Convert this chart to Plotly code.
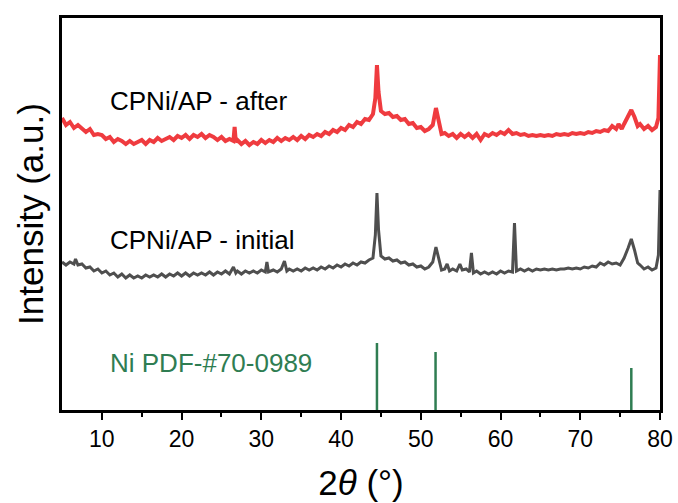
import plotly.graph_objects as go

# ---- data (2theta in degrees, intensity in arbitrary units) ----
after_x = [5.0,5.5,6.0,6.5,7.0,7.5,8.0,8.5,9.0,9.5,10.0,10.5,11.0,11.5,12.0,12.5,13.0,13.5,14.0,14.5,
           15.0,15.5,16.0,16.5,17.0,17.5,18.0,18.5,19.0,19.5,20.0,20.5,21.0,21.5,22.0,22.5,23.0,23.5,24.0,24.5,
           25.0,25.5,26.0,26.5,26.65,26.8,27.0,27.5,28.0,28.5,29.0,29.5,30.0,30.5,31.0,31.5,32.0,32.5,33.0,33.5,
           34.0,34.5,35.0,35.5,36.0,36.5,37.0,37.5,38.0,38.5,39.0,39.5,40.0,40.5,41.0,41.5,42.0,42.5,43.0,43.5,
           44.0,44.3,44.5,44.7,45.0,45.5,46.0,46.5,47.0,47.5,48.0,48.5,49.0,49.5,50.0,50.5,51.0,51.5,51.9,52.3,
           52.6,53.0,53.5,54.0,54.5,55.0,55.5,56.0,56.5,57.0,57.5,58.0,58.5,59.0,59.5,60.0,60.5,61.0,61.5,62.0,
           62.5,63.0,63.5,64.0,64.5,65.0,65.5,66.0,66.5,67.0,67.5,68.0,68.5,69.0,69.5,70.0,70.5,71.0,71.5,72.0,
           72.5,73.0,73.5,74.0,74.5,74.8,75.2,75.5,76.0,76.4,76.8,77.2,77.5,78.0,78.5,79.0,79.5,79.8,80.0]
after_y = [292,285,288,282,285,281,278,281,275,276,275,271,273,268,271,269,266,269,266,268,
           270,266,270,268,272,269,271,273,270,274,272,275,271,275,273,276,272,275,273,270,
           273,269,271,269,283,268,270,266,269,265,268,266,270,267,270,268,272,269,272,270,
           273,270,274,271,275,273,276,274,278,276,280,278,282,280,285,283,288,286,291,290,
           296,312,345,318,299,296,297,293,294,290,291,286,287,282,283,279,281,285,302,285,
           276,277,274,276,272,276,273,276,272,276,270,276,274,277,275,278,276,280,276,277,
           275,276,274,275,274,275,274,275,274,276,275,276,275,277,276,277,276,278,277,279,
           278,280,279,284,281,286,281,286,293,300,293,284,286,281,284,280,283,292,355]

initial_x = [5.0,5.5,6.0,6.5,6.7,7.0,7.5,8.0,8.5,9.0,9.5,10.0,10.5,11.0,11.5,12.0,12.5,13.0,13.5,14.0,
             14.5,15.0,15.5,16.0,16.5,17.0,17.5,18.0,18.5,19.0,19.5,20.0,20.5,21.0,21.5,22.0,22.5,23.0,23.5,24.0,
             24.5,25.0,25.5,26.0,26.5,26.8,27.0,27.5,28.0,28.5,29.0,29.5,30.0,30.5,30.7,30.9,31.5,32.0,32.5,32.9,
             33.2,33.5,34.0,34.5,35.0,35.5,36.0,36.5,37.0,37.5,38.0,38.5,39.0,39.5,40.0,40.5,41.0,41.5,42.0,42.5,
             43.0,43.5,44.0,44.3,44.5,44.7,45.0,45.5,46.0,46.5,47.0,47.5,48.0,48.5,49.0,49.5,50.0,50.5,51.0,51.5,
             51.9,52.3,52.6,53.0,53.3,53.6,54.0,54.5,54.9,55.2,55.7,56.1,56.35,56.6,57.0,57.5,58.0,58.5,59.0,59.5,
             60.0,60.5,61.0,61.5,61.75,62.0,62.5,63.0,63.5,64.0,64.5,65.0,65.5,66.0,66.5,67.0,67.5,68.0,68.5,69.0,
             69.5,70.0,70.5,71.0,71.5,72.0,72.5,73.0,73.5,74.0,74.5,75.0,75.5,76.0,76.4,76.8,77.2,77.5,78.0,78.5,
             79.0,79.5,79.8,80.0]
initial_y = [148,145,148,146,151,145,146,142,143,139,141,137,139,135,137,133,136,132,135,132,
             134,132,135,133,135,133,136,133,136,134,137,134,137,134,137,135,137,135,138,135,
             138,136,139,136,143,137,139,136,139,137,139,137,140,138,148,138,140,138,141,149,
             139,141,139,141,139,142,140,142,140,143,141,144,142,145,143,146,144,147,145,148,
             147,150,152,175,217,180,154,151,152,149,150,147,148,145,146,143,144,141,143,148,
             163,148,140,141,146,139,141,139,146,140,141,138,157,137,139,136,138,136,138,136,
             139,137,139,138,187,139,141,139,141,139,141,140,141,140,141,140,141,141,142,141,
             142,141,143,142,144,143,147,145,148,146,147,145,152,162,171,160,147,145,141,143,
             140,142,155,220]

ref_pos = [44.5, 51.85, 76.4]
ref_int = [67, 58, 42]

x_ticks = [10, 20, 30, 40, 50, 60, 70, 80]
labels = ["CPNi/AP - after", "CPNi/AP - initial", "Ni PDF-#70-0989"]

RED = "#ef3b3f"
GRAY = "#4f4f4f"
GREEN = "#2f7d52"

fig = go.Figure()

# reference sticks built from the reference arrays
stick_x, stick_y = [], []
for p, h in zip(ref_pos, ref_int):
    stick_x += [p, p, None]
    stick_y += [0, h, None]
fig.add_trace(go.Scatter(x=stick_x, y=stick_y, mode="lines",
                         line=dict(color=GREEN, width=2.5), showlegend=False))

fig.add_trace(go.Scatter(x=initial_x, y=initial_y, mode="lines",
                         line=dict(color=GRAY, width=3), showlegend=False))
fig.add_trace(go.Scatter(x=after_x, y=after_y, mode="lines",
                         line=dict(color=RED, width=4), showlegend=False))

font_main = "Liberation Sans, Arial, sans-serif"

ann_y = [309, 170, 47]
ann_col = ["black", "black", GREEN]
for t, yv, c in zip(labels, ann_y, ann_col):
    fig.add_annotation(x=10.8, y=yv, text=t, showarrow=False, xanchor="left", yanchor="middle",
                       font=dict(family=font_main, size=26, color=c))

fig.update_layout(
    width=678, height=503,
    margin=dict(l=62, r=18, t=18, b=93),
    paper_bgcolor="white", plot_bgcolor="white",
    font=dict(family=font_main, color="black"),
    xaxis=dict(range=[5, 80], tickvals=x_ticks, ticks="outside", ticklen=7, tickwidth=2,
               tickcolor="black", showline=True, linewidth=2.5, linecolor="black", mirror=True,
               showgrid=False, zeroline=False, tickfont=dict(size=23, family=font_main),
               automargin=False,
               minor=dict(tickvals=[15, 25, 35, 45, 55, 65, 75], ticks="outside", ticklen=4,
                          tickwidth=2, tickcolor="black"),
               title=dict(text="2<i>θ</i> (°)", font=dict(size=35, family=font_main), standoff=20)),
    yaxis=dict(range=[0, 392], showticklabels=False, ticks="", showline=True, linewidth=2.5,
               linecolor="black", mirror=True, showgrid=False, zeroline=False, automargin=False,
               title=dict(text="Intensity (a.u.)", font=dict(size=35, family=font_main), standoff=6)),
)

fig.write_html("out.html")
